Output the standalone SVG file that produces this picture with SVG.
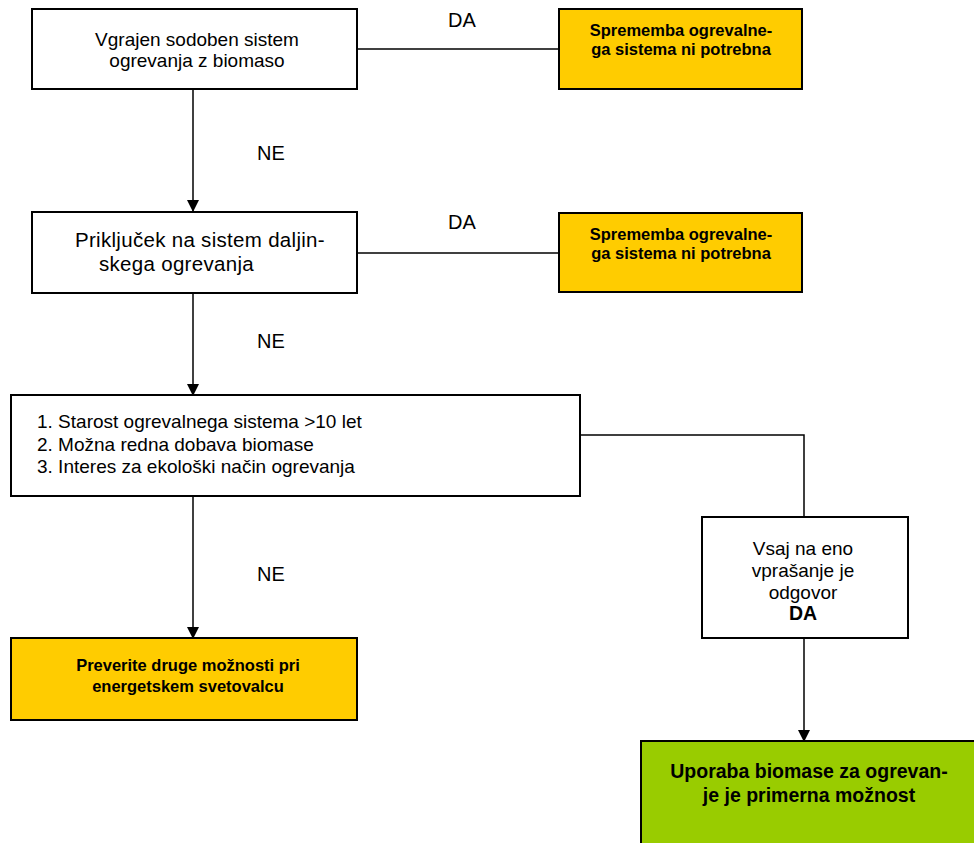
<svg xmlns="http://www.w3.org/2000/svg" width="974" height="843" viewBox="0 0 974 843">
<defs>
<marker id="arr" markerWidth="12" markerHeight="14" refX="11" refY="6" orient="auto" markerUnits="userSpaceOnUse" viewBox="0 0 12 12">
<path d="M0,0 L12,6 L0,12 Z" fill="#000"/>
</marker>
<style>
.box{fill:#fff;stroke:#000;stroke-width:2}
.or{fill:#FFCC00;stroke:#000;stroke-width:2}
.gr{fill:#99CC00;stroke:#000;stroke-width:2}
.t{font-family:"Liberation Sans",Arial,sans-serif;font-size:19px;fill:#000}
.sp{font-size:20.5px;letter-spacing:0.3px}
.lb{font-family:"Liberation Sans",Arial,sans-serif;font-size:20px;fill:#000}
.b{font-family:"Liberation Sans",Arial,sans-serif;font-size:16.5px;font-weight:bold;fill:#000}
.bg{font-family:"Liberation Sans",Arial,sans-serif;font-size:19.5px;font-weight:bold;fill:#000}
.c{text-anchor:middle}
.ln{fill:none;stroke:#000;stroke-width:1.5}
</style>
</defs>
<rect width="974" height="843" fill="#fff"/>
<g id="connectors">
<line class="ln" x1="357" y1="49" x2="559" y2="49"/>
<line class="ln" x1="357" y1="253" x2="559" y2="253"/>
<line class="ln" x1="193" y1="89" x2="193" y2="211" marker-end="url(#arr)"/>
<line class="ln" x1="193" y1="293" x2="193" y2="395" marker-end="url(#arr)"/>
<line class="ln" x1="193" y1="496" x2="193" y2="638" marker-end="url(#arr)"/>
<polyline class="ln" points="580,435 804,435 804,517"/>
<line class="ln" x1="804" y1="638" x2="804" y2="741" marker-end="url(#arr)"/>
<text class="lb" x="448" y="27">DA</text>
<text class="lb" x="448" y="229">DA</text>
<text class="lb" x="257" y="160">NE</text>
<text class="lb" x="257" y="348">NE</text>
<text class="lb" x="257" y="581">NE</text>
</g>
<g id="n1">
<rect class="box" x="32" y="9" width="325" height="80"/>
<text class="t c" x="197" y="46">Vgrajen sodoben sistem</text>
<text class="t c" x="197" y="67">ogrevanja z biomaso</text>
</g>
<g id="n2">
<rect class="or" x="559" y="9" width="243" height="80"/>
<text class="b c" x="681" y="36">Sprememba ogrevalne-</text>
<text class="b c" x="681" y="55">ga sistema ni potrebna</text>
</g>
<g id="n3">
<rect class="box" x="32" y="212" width="325" height="81"/>
<text class="t sp" x="75" y="247">Priključek na sistem daljin-</text>
<text class="t sp" x="99" y="271">skega ogrevanja</text>
</g>
<g id="n4">
<rect class="or" x="559" y="213" width="243" height="79"/>
<text class="b c" x="681" y="240">Sprememba ogrevalne-</text>
<text class="b c" x="681" y="259">ga sistema ni potrebna</text>
</g>
<g id="n5">
<rect class="box" x="11" y="395" width="569" height="101"/>
<text class="t" x="37" y="428">1. Starost ogrevalnega sistema &gt;10 let</text>
<text class="t" x="37" y="450.5">2. Možna redna dobava biomase</text>
<text class="t" x="37" y="473">3. Interes za ekološki način ogrevanja</text>
</g>
<g id="n6">
<rect class="box" x="702" y="517" width="206" height="121"/>
<text class="t c" x="803" y="555">Vsaj na eno</text>
<text class="t c" x="803" y="577">vprašanje je</text>
<text class="t c" x="803" y="599">odgovor</text>
<text class="bg c" x="803" y="620">DA</text>
</g>
<g id="n7">
<rect class="or" x="11" y="638" width="346" height="82"/>
<text class="b c" x="188" y="671">Preverite druge možnosti pri</text>
<text class="b c" x="188" y="692">energetskem svetovalcu</text>
</g>
<g id="n8">
<rect class="gr" x="641" y="741" width="345" height="115"/>
<text class="bg c" x="809" y="778">Uporaba biomase za ogrevan-</text>
<text class="bg c" x="809" y="802">je je primerna možnost</text>
</g>
</svg>
